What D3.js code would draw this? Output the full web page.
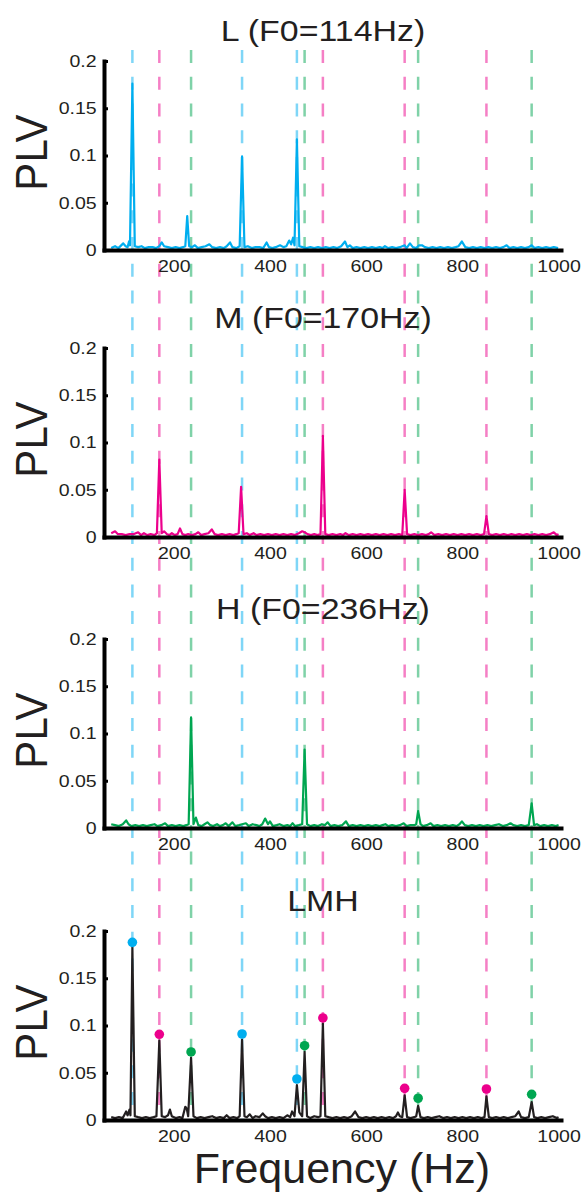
<!DOCTYPE html>
<html>
<head>
<meta charset="utf-8">
<script src="https://cdn.jsdelivr.net/npm/d3@7"></script>
<style>
  body { margin: 0; background: #fff; }
  svg { display: block; }
  text { font-family: "Liberation Sans", Arial, sans-serif; fill: #231f20; }
</style>
</head>
<body>
<div id="chart"></div>
<script>
// ---------------- data ----------------
var panelTitles = ["L (F0=114Hz)", "M (F0=170Hz)", "H (F0=236Hz)", "LMH"];
var xTicks = [200, 400, 600, 800, 1000];
var yTicks = [0, 0.05, 0.1, 0.15, 0.2];

// [frequency Hz, PLV]
var lowSpectrum = [[70,.002],[78,.004],[85,.002],[95,.007],[100,.004],[104,.003],[107,.009],[109,.005],[114,.176],[119,.004],[126,.003],[133,.004],[140,.002],[148,.003],[156,.003],[163,.002],[170,.004],[175,.008],[180,.004],[188,.003],[196,.002],[204,.003],[212,.002],[219,.003],[224,.004],[228,.036],[232,.004],[238,.003],[244,.005],[250,.002],[258,.003],[266,.004],[274,.006],[280,.003],[288,.002],[296,.003],[304,.002],[310,.004],[317,.008],[322,.003],[330,.002],[337,.004],[342,.099],[347,.003],[354,.004],[362,.002],[370,.003],[378,.003],[386,.002],[393,.008],[398,.003],[405,.002],[412,.003],[421,.005],[428,.003],[434,.004],[440,.010],[444,.006],[448,.013],[451,.005],[456,.117],[461,.004],[468,.003],[476,.002],[484,.003],[492,.002],[500,.003],[508,.002],[516,.003],[524,.002],[532,.003],[540,.002],[548,.004],[556,.009],[561,.003],[566,.005],[572,.002],[580,.003],[588,.002],[596,.003],[604,.002],[612,.003],[620,.002],[628,.003],[634,.002],[639,.004],[646,.002],[654,.003],[662,.002],[670,.003],[680,.005],[684,.002],[691,.007],[697,.003],[704,.002],[710,.005],[716,.005],[722,.003],[730,.002],[738,.003],[746,.002],[754,.003],[762,.002],[770,.003],[778,.002],[786,.003],[792,.004],[799,.009],[806,.003],[814,.002],[822,.003],[830,.002],[838,.003],[846,.002],[854,.003],[862,.002],[870,.003],[878,.002],[885,.003],[892,.005],[898,.002],[906,.003],[914,.002],[922,.003],[930,.002],[938,.003],[944,.005],[950,.002],[958,.003],[966,.002],[974,.003],[982,.002],[990,.003],[999,.002]];

var midSpectrum = [[70,.004],[78,.006],[84,.003],[92,.003],[100,.002],[108,.003],[116,.003],[126,.005],[132,.002],[138,.004],[145,.002],[152,.003],[160,.002],[165,.004],[170,.082],[175,.004],[180,.006],[186,.003],[191,.002],[196,.004],[202,.002],[208,.003],[213,.009],[218,.003],[224,.002],[230,.003],[238,.002],[245,.003],[251,.005],[257,.002],[264,.003],[272,.004],[279,.008],[285,.003],[292,.002],[300,.003],[308,.002],[316,.003],[324,.002],[330,.003],[335,.004],[340,.053],[345,.003],[352,.004],[358,.002],[366,.004],[372,.002],[380,.003],[388,.002],[396,.003],[404,.002],[412,.003],[420,.002],[428,.003],[436,.002],[444,.003],[452,.002],[460,.004],[467,.006],[472,.005],[478,.003],[485,.002],[492,.003],[499,.002],[505,.003],[510,.107],[515,.003],[522,.002],[530,.003],[538,.002],[546,.003],[552,.002],[557,.004],[564,.002],[572,.003],[580,.002],[588,.003],[596,.002],[604,.003],[612,.002],[620,.003],[628,.002],[636,.003],[644,.002],[652,.003],[660,.002],[668,.003],[675,.002],[680,.050],[685,.003],[692,.002],[700,.003],[708,.002],[716,.003],[724,.002],[730,.003],[735,.005],[742,.002],[750,.003],[758,.002],[766,.003],[774,.002],[782,.003],[790,.002],[798,.003],[806,.002],[814,.003],[822,.002],[830,.003],[838,.002],[845,.003],[850,.022],[855,.003],[862,.002],[870,.003],[878,.002],[886,.003],[894,.002],[902,.003],[910,.002],[918,.003],[926,.002],[934,.003],[942,.002],[950,.003],[958,.002],[966,.003],[974,.002],[982,.003],[990,.005],[996,.002],[1000,.003]];

var highSpectrum = [[70,.004],[78,.003],[86,.002],[94,.004],[101,.008],[106,.004],[112,.002],[120,.003],[128,.002],[136,.003],[144,.002],[152,.003],[160,.004],[166,.002],[174,.003],[182,.005],[188,.002],[196,.003],[204,.002],[212,.003],[220,.002],[226,.003],[231,.004],[236,.117],[241,.004],[246,.011],[251,.003],[258,.002],[264,.004],[270,.006],[276,.003],[282,.002],[290,.004],[296,.002],[302,.003],[308,.005],[314,.002],[322,.006],[328,.002],[336,.003],[342,.004],[350,.005],[356,.002],[364,.004],[372,.003],[378,.002],[384,.004],[390,.010],[396,.004],[400,.007],[406,.002],[414,.003],[420,.004],[428,.002],[436,.003],[442,.002],[447,.005],[452,.002],[460,.003],[467,.004],[472,.083],[477,.004],[484,.002],[492,.003],[500,.002],[508,.004],[514,.003],[520,.006],[526,.002],[534,.003],[542,.002],[550,.003],[558,.007],[564,.002],[572,.003],[580,.002],[588,.003],[596,.002],[604,.003],[612,.002],[620,.003],[628,.002],[634,.003],[640,.004],[646,.002],[654,.003],[662,.002],[670,.003],[678,.005],[684,.002],[692,.003],[700,.003],[704,.004],[708,.018],[713,.004],[718,.002],[726,.003],[734,.005],[740,.002],[748,.003],[756,.002],[764,.003],[772,.002],[780,.003],[788,.002],[794,.004],[799,.007],[805,.003],[812,.002],[820,.003],[828,.002],[836,.003],[844,.002],[852,.003],[860,.002],[868,.003],[876,.004],[884,.002],[892,.003],[900,.005],[906,.003],[914,.002],[922,.003],[930,.002],[938,.003],[944,.026],[949,.003],[955,.004],[962,.002],[970,.003],[978,.002],[986,.003],[994,.002],[1000,.003]];

var lmhSpectrum = [[70,.003],[78,.002],[86,.003],[94,.002],[101,.009],[104,.005],[108,.011],[110,.005],[114,.183],[119,.004],[126,.003],[134,.002],[142,.003],[150,.002],[158,.003],[164,.004],[170,.084],[175,.004],[182,.003],[188,.005],[192,.011],[196,.004],[204,.002],[212,.003],[218,.002],[224,.014],[227,.012],[230,.004],[236,.066],[241,.004],[248,.002],[256,.003],[264,.002],[272,.003],[280,.004],[288,.002],[296,.003],[304,.002],[310,.005],[316,.002],[324,.003],[332,.002],[337,.004],[342,.085],[347,.004],[352,.003],[358,.006],[364,.002],[370,.004],[378,.003],[385,.007],[390,.004],[396,.002],[404,.003],[412,.002],[420,.003],[428,.002],[436,.005],[442,.003],[446,.009],[451,.004],[456,.037],[461,.008],[464,.006],[467,.004],[472,.072],[477,.004],[484,.002],[492,.004],[500,.003],[505,.004],[510,.102],[515,.004],[522,.003],[530,.002],[538,.003],[546,.002],[554,.003],[562,.002],[570,.004],[577,.009],[584,.003],[592,.002],[600,.003],[608,.002],[616,.003],[624,.002],[632,.003],[640,.002],[648,.003],[656,.002],[662,.004],[666,.008],[670,.004],[675,.003],[680,.026],[685,.003],[692,.002],[700,.003],[704,.004],[708,.015],[713,.003],[720,.002],[728,.003],[736,.002],[744,.003],[752,.004],[760,.002],[768,.003],[776,.002],[784,.003],[792,.002],[800,.003],[808,.002],[816,.003],[824,.002],[832,.003],[840,.002],[846,.003],[850,.025],[855,.003],[862,.002],[870,.003],[878,.002],[886,.003],[894,.002],[902,.003],[910,.004],[917,.009],[922,.003],[930,.002],[938,.003],[944,.019],[949,.003],[956,.002],[964,.003],[972,.002],[980,.003],[988,.004],[996,.002],[1000,.003]];

// harmonic reference lines (dashed)
var lowHarmonics  = [114, 342, 456];
var midHarmonics  = [170, 510, 680, 850];
var highHarmonics = [236, 472, 708, 944];

// dots on the LMH panel
var dotFreq  = [114, 342, 456, 170, 510, 680, 850, 236, 472, 708, 944];
var dotPLV   = [0.188, 0.091, 0.0434, 0.0907, 0.108, 0.0335, 0.0328, 0.072, 0.0786, 0.023, 0.0272];
var dotGroup = ["L", "L", "L", "M", "M", "M", "M", "H", "H", "H", "H"];

// ---------------- layout ----------------
var width = 582, height = 1194;
var colors = { L: "#00aeef", M: "#ec008c", H: "#00a651", LMH: "#231f20" };
var panelTops = [61, 348, 639, 931];
var panelH = 189;

var svg = d3.select("#chart").append("svg")
    .attr("width", width)
    .attr("height", height);

var x = d3.scaleLinear().domain([55, 1005]).range([104, 561]);

// dashed harmonic lines spanning all panels
var guides = svg.append("g");
[["L", lowHarmonics], ["M", midHarmonics], ["H", highHarmonics]].forEach(function(h) {
  guides.selectAll(null)
    .data(h[1])
    .enter()
    .append("line")
      .attr("x1", function(d) { return x(d); })
      .attr("x2", function(d) { return x(d); })
      .attr("y1", 50)
      .attr("y2", panelTops[3] + panelH)
      .attr("stroke", colors[h[0]])
      .attr("stroke-opacity", 0.5)
      .attr("stroke-width", 2.5)
      .attr("stroke-dasharray", "13,13.72");
});

var spectra = [lowSpectrum, midSpectrum, highSpectrum, lmhSpectrum];
var lineColors = [colors.L, colors.M, colors.H, colors.LMH];

spectra.forEach(function(data, i) {
  var top = panelTops[i], bottom = top + panelH;
  var y = d3.scaleLinear().domain([0, 0.2]).range([bottom, top]);
  var g = svg.append("g");

  // data line
  g.append("path")
    .datum(data)
    .attr("fill", "none")
    .attr("stroke", lineColors[i])
    .attr("stroke-width", 2.2)
    .attr("stroke-linejoin", "round")
    .attr("d", d3.line()
      .x(function(d) { return x(d[0]); })
      .y(function(d) { return y(d[1]); }));

  // Y axis
  var ya = g.append("g")
    .attr("transform", "translate(104,0)")
    .call(d3.axisLeft(y).tickValues(yTicks).tickSizeInner(-4).tickSizeOuter(0)
      .tickFormat(function(d) { return String(d); }));
  ya.select(".domain").attr("stroke-width", 4).attr("stroke-linecap", "square");
  ya.selectAll(".tick line").attr("stroke-width", 3);
  ya.selectAll(".tick text")
    .attr("x", -6.4)
    .attr("transform", "scale(1.15,1)")
    .style("font-size", "17px")
    .style("font-family", "Liberation Sans, Arial, sans-serif")
    .attr("fill", "#231f20");

  // X axis
  var xa = g.append("g")
    .attr("transform", "translate(0," + bottom + ")")
    .call(d3.axisBottom(x).tickValues(xTicks).tickSize(0).tickPadding(10)
      .tickFormat(function(d) { return String(d); }));
  xa.select(".domain").attr("stroke-width", 4).attr("stroke-linecap", "square");
  xa.selectAll(".tick text")
    .attr("transform", "scale(1.15,1)")
    .style("font-size", "17px")
    .style("font-family", "Liberation Sans, Arial, sans-serif")
    .attr("fill", "#231f20");

  // PLV label
  g.append("text")
    .attr("transform", "translate(47," + (top + panelH / 2 - 3) + ") scale(1.07,1) rotate(-90)")
    .attr("text-anchor", "middle")
    .style("font-size", "42px")
    .text("PLV");

  // title
  svg.append("text")
    .attr("transform", "translate(323," + (top - 20.5) + ") scale(1.13,1)")
    .attr("text-anchor", "middle")
    .style("font-size", "30px")
    .text(panelTitles[i]);

  // dots on LMH panel
  if (i === 3) {
    g.selectAll("circle")
      .data(dotFreq)
      .enter()
      .append("circle")
        .attr("cx", function(d) { return x(d); })
        .attr("cy", function(d, k) { return y(dotPLV[k]); })
        .attr("r", 4.8)
        .attr("fill", function(d, k) { return colors[dotGroup[k]]; });
  }
});

// x label
svg.append("text")
  .attr("x", 342)
  .attr("y", 1183)
  .attr("text-anchor", "middle")
  .style("font-size", "43px")
  .text("Frequency (Hz)");
</script>
</body>
</html>
